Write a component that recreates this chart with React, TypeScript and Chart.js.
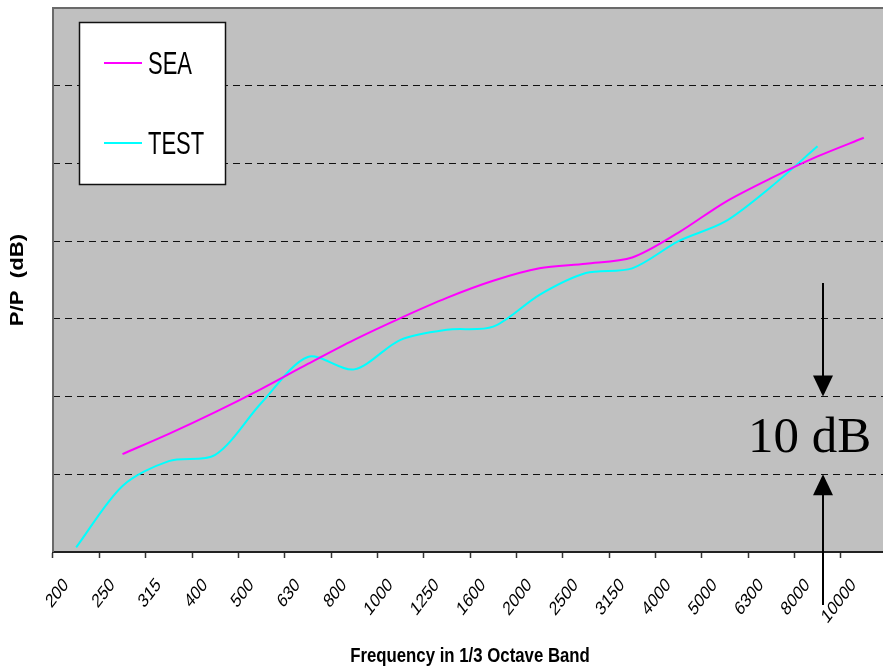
import React, { useEffect, useRef } from 'react';
import { Chart, registerables } from 'chart.js';

Chart.register(...registerables);

const categories = ['200', '250', '315', '400', '500', '630', '800', '1000', '1250', '1600', '2000', '2500', '3150', '4000', '5000', '6300', '8000', '10000'];
const seaValues = [null, 12.6, 15.2, 18.0, 21.0, 24.2, 27.3, 30.1, 32.7, 34.9, 36.5, 37.1, 37.9, 41.1, 45.0, 48.1, 50.9, 53.3];
const testValues = [0.6, 8.5, 11.7, 12.5, 19.2, 25.1, 23.5, 27.3, 28.6, 29.0, 33.1, 35.9, 36.5, 40.0, 42.5, 47.0, 52.2, null];
const yMin = 0;
const yMax = 70;
const yStep = 10;
const seriesNames = ['SEA', 'TEST'];
const seriesColors = ['#FF00FF', '#00FFFF'];
const xTitle = 'Frequency in 1/3 Octave Band';
const yTitle = 'P/P  (dB)';
const annotationText = '10 dB';
const annotationFrom = 10;
const annotationTo = 20;

function drawStretchedText(ctx: CanvasRenderingContext2D, text: string, x: number, y: number, s: number, rot: number, font: string, align: CanvasTextAlign, baseline: CanvasTextBaseline) {
  ctx.save();
  ctx.translate(x, y);
  ctx.scale(1, s);
  ctx.rotate(rot);
  ctx.font = font;
  ctx.textAlign = align;
  ctx.textBaseline = baseline;
  ctx.fillStyle = '#000';
  ctx.fillText(text, 0, 0);
  ctx.restore();
}

const decorPlugin = {
  id: 'decor',
  beforeDraw(chart: any) {
    const { ctx, chartArea: a } = chart;
    ctx.save();
    ctx.fillStyle = '#C0C0C0';
    ctx.fillRect(a.left, a.top, a.right - a.left, a.bottom - a.top);
    ctx.restore();
  },
  beforeDatasetsDraw(chart: any) {
    const { ctx, chartArea: a } = chart;
    ctx.save();
    ctx.strokeStyle = '#6a6a6a';
    ctx.lineWidth = 2;
    ctx.beginPath();
    ctx.moveTo(a.left, a.bottom);
    ctx.lineTo(a.left, a.top);
    ctx.lineTo(a.right, a.top);
    ctx.stroke();
    ctx.restore();
  },
  afterDraw(chart: any) {
    const { ctx, chartArea: a, scales } = chart;

    // category tick labels, rotated and vertically stretched like the original
    const xs = scales.x;
    xs.ticks.forEach((t: any, i: number) => {
      const cx = xs.getPixelForTick(i);
      const label = String(xs.getLabelForValue(t.value));
      drawStretchedText(ctx, label, cx - 10, a.bottom + 30, 1.3, -Math.PI / 4, '15px "Liberation Sans", Arial, sans-serif', 'right', 'middle');
    });

    // legend
    ctx.save();
    ctx.fillStyle = '#fff';
    ctx.fillRect(79.5, 22.5, 146, 162);
    ctx.strokeStyle = '#111';
    ctx.lineWidth = 1.5;
    ctx.strokeRect(79.5, 22.5, 146, 162);
    const rows = [63, 143];
    seriesNames.forEach((name, i) => {
      ctx.strokeStyle = seriesColors[i];
      ctx.lineWidth = 2;
      ctx.beginPath();
      ctx.moveTo(104, rows[i]);
      ctx.lineTo(142, rows[i]);
      ctx.stroke();
      drawStretchedText(ctx, name, 148, rows[i] + 11, 1.4, 0, '22px "Liberation Sans", Arial, sans-serif', 'left', 'alphabetic');
    });
    ctx.restore();

    // axis titles
    drawStretchedText(ctx, xTitle, (a.left + a.right) / 2, 662, 1.25, 0, 'bold 16.8px "Liberation Sans", Arial, sans-serif', 'center', 'alphabetic');
    drawStretchedText(ctx, yTitle, 18, (a.top + a.bottom) / 2, 1.2, -Math.PI / 2, 'bold 18.5px "Liberation Sans", Arial, sans-serif', 'center', 'middle');

    // 10 dB annotation
    const y = scales.y;
    const ax = 823;
    const tipTop = y.getPixelForValue(annotationTo);
    const tipBottom = y.getPixelForValue(annotationFrom);
    ctx.save();
    ctx.strokeStyle = '#000';
    ctx.fillStyle = '#000';
    ctx.lineWidth = 2;
    ctx.beginPath();
    ctx.moveTo(ax, 283);
    ctx.lineTo(ax, tipTop - 15);
    ctx.moveTo(ax, tipBottom + 15);
    ctx.lineTo(ax, 605);
    ctx.stroke();
    ctx.beginPath();
    ctx.moveTo(ax - 10, tipTop - 21);
    ctx.lineTo(ax + 10, tipTop - 21);
    ctx.lineTo(ax, tipTop);
    ctx.closePath();
    ctx.fill();
    ctx.beginPath();
    ctx.moveTo(ax - 10, tipBottom + 21);
    ctx.lineTo(ax + 10, tipBottom + 21);
    ctx.lineTo(ax, tipBottom);
    ctx.closePath();
    ctx.fill();
    ctx.font = '51px "Liberation Serif", "Times New Roman", serif';
    ctx.textAlign = 'left';
    ctx.textBaseline = 'alphabetic';
    ctx.fillText(annotationText, 748, 452);
    ctx.restore();
  },
};

export default function App() {
  const canvasRef = useRef<HTMLCanvasElement | null>(null);

  useEffect(() => {
    const canvas = canvasRef.current;
    if (!canvas) return;

    const chart = new Chart(canvas, {
      type: 'line',
      data: {
        labels: categories,
        datasets: [
          {
            label: seriesNames[0],
            data: seaValues,
            borderColor: seriesColors[0],
            backgroundColor: seriesColors[0],
            borderWidth: 2,
            pointRadius: 0,
            tension: 0.3,
            fill: false,
          },
          {
            label: seriesNames[1],
            data: testValues,
            borderColor: seriesColors[1],
            backgroundColor: seriesColors[1],
            borderWidth: 2,
            pointRadius: 0,
            tension: 0.3,
            fill: false,
          },
        ],
      },
      options: {
        animation: false,
        responsive: false,
        devicePixelRatio: 1,
        layout: { padding: { top: 8, left: 0, right: 3, bottom: 0 } },
        plugins: { legend: { display: false }, tooltip: { enabled: false }, title: { display: false } },
        scales: {
          x: {
            type: 'category',
            offset: true,
            grid: {
              offset: true,
              drawOnChartArea: false,
              drawTicks: true,
              tickLength: 6,
              tickColor: '#333',
              tickWidth: 1.5,
            },
            border: { display: true, color: '#222', width: 2 },
            ticks: { display: false, autoSkip: false },
            afterFit: (scale: any) => {
              scale.height = 117;
            },
          },
          y: {
            min: yMin,
            max: yMax,
            ticks: { display: false, stepSize: yStep },
            grid: {
              drawTicks: false,
              color: (c: any) => (c.tick && (c.tick.value === yMin || c.tick.value === yMax) ? 'rgba(0,0,0,0)' : '#111'),
              lineWidth: 1,
            },
            border: { display: false, dash: [7, 5] },
            afterFit: (scale: any) => {
              scale.width = 53;
            },
          },
        },
      },
      plugins: [decorPlugin],
    } as any);

    return () => {
      chart.destroy();
    };
  }, []);

  return (
    <div style={{ position: 'fixed', left: 0, top: 0, width: 883, height: 669, overflow: 'hidden', background: '#fff' }}>
      <canvas ref={canvasRef} width={890} height={669} style={{ display: 'block' }} />
    </div>
  );
}
